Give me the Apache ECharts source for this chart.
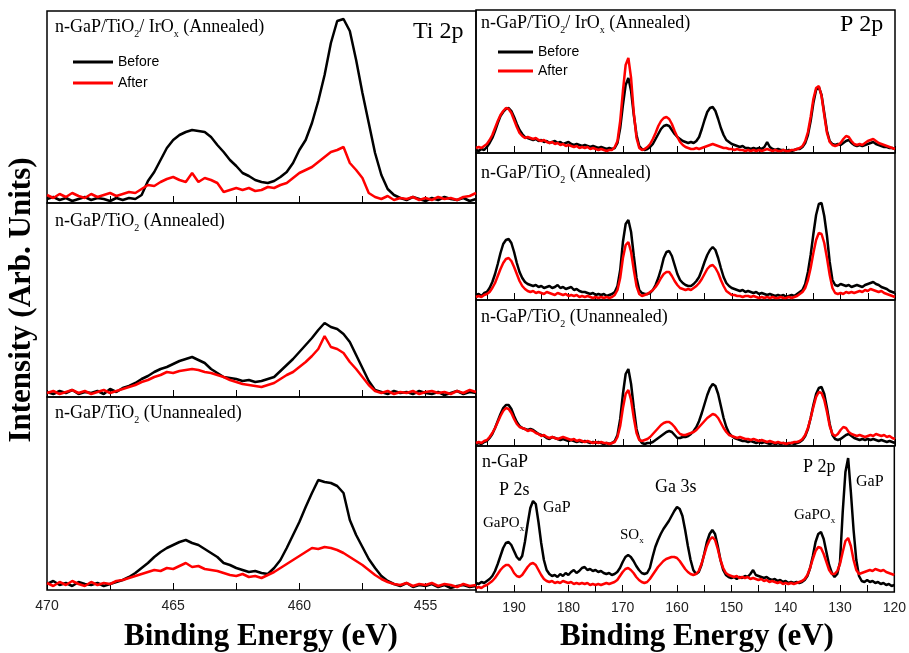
<!DOCTYPE html>
<html><head><meta charset="utf-8">
<script src="https://cdn.jsdelivr.net/npm/echarts@6/dist/echarts.min.js"></script>
<style>html,body{margin:0;padding:0;background:#fff}#c{width:909px;height:653px}</style>
</head><body><div id="c"></div>
<script>
// ---- Binding energies (eV) ----
const leftE = [470,469.75,469.5,469.25,469,468.75,468.5,468.25,468,467.75,467.5,467.25,
467,466.75,466.5,466.25,466,465.75,465.5,465.25,465,464.75,464.5,464.25,
464,463.75,463.5,463.25,463,462.75,462.5,462.25,462,461.75,461.5,461.25,
461,460.75,460.5,460.25,460,459.75,459.5,459.25,459,458.75,458.5,458.25,
458,457.75,457.5,457.25,457,456.75,456.5,456.25,456,455.75,455.5,455.25,
455,454.75,454.5,454.25,454,453.75,453.5,453.25,453];
const rightE = [197,196.5,196,195.5,195,194.5,194,193.5,193,192.5,192,191.5,191,190.5,190,189.5,189,188.5,188,187.5,
187,186.5,186,185.5,185,184.5,184,183.5,183,182.5,182,181.5,181,180.5,180,179.5,179,178.5,178,177.5,
177,176.5,176,175.5,175,174.5,174,173.5,173,172.5,172,171.5,171,170.5,170,169.5,169,168.5,168,167.5,
167,166.5,166,165.5,165,164.5,164,163.5,163,162.5,162,161.5,161,160.5,160,159.5,159,158.5,158,157.5,
157,156.5,156,155.5,155,154.5,154,153.5,153,152.5,152,151.5,151,150.5,150,149.5,149,148.5,148,147.5,
147,146.5,146,145.5,145,144.5,144,143.5,143,142.5,142,141.5,141,140.5,140,139.5,139,138.5,138,137.5,
137,136.5,136,135.5,135,134.5,134,133.5,133,132.5,132,131.5,131,130.5,130,129.5,129,128.5,128,127.5,
127,126.5,126,125.5,125,124.5,124,123.5,123,122.5,122,121.5,121,120.5,120];

// ---- Tick / label values ----
const leftTicks = [470,467.5,465,462.5,460,457.5,455];
const leftLabels = [470,465,460,455];
const rightTicks = [195,190,185,180,175,170,165,160,155,150,145,140,135,130,125,120];
const rightLabels = [190,180,170,160,150,140,130,120];

// ---- Ti 2p intensities (arb.) ----
const tiIrBefore = [4,6,3,5,2,4,6,3,5,4,2,5,
3,5,4,8,22,31,43,55,63,68,71,73,
72,71,66,58,51,43,37,30,27,23,21,20,
22,26,31,40,53,63,80,102,128,160,182,184,
172,143,110,80,50,28,14,8,5,3,6,4,
2,5,3,6,4,3,5,2,4];
const tiIrAfter = [8,5,9,6,10,7,5,9,6,8,10,7,
9,11,10,14,18,17,21,24,26,23,21,30,
21,25,23,20,11,13,15,13,15,12,13,16,
15,18,20,25,30,33,36,41,46,51,53,56,
40,33,25,10,6,4,7,3,5,4,6,3,
5,3,6,4,5,3,6,7,10];
const tiAnnBefore = [5,3,6,4,7,3,5,4,6,3,8,5,
9,11,14,18,21,25,28,30,33,36,38,40,
37,34,28,24,20,19,18,16,17,15,16,18,
20,26,32,38,45,52,59,67,74,70,68,63,
55,42,29,16,7,5,3,6,4,5,3,6,
4,3,5,2,4,6,3,5,4];
const tiAnnAfter = [4,6,3,5,7,4,6,3,5,7,4,6,
8,10,12,15,17,20,22,25,24,26,27,28,
27,25,24,22,20,17,15,13,12,11,10,12,
14,18,22,25,30,35,41,48,61,50,48,44,
35,28,20,12,6,4,6,3,5,4,6,3,
5,6,4,5,3,6,4,7,5];
const tiUnBefore = [6,9,5,7,4,8,6,5,7,4,6,8,
10,13,17,22,27,33,38,42,45,48,50,47,
45,41,37,33,27,25,22,20,18,19,17,16,
22,30,42,55,68,83,97,110,108,107,104,97,
70,55,43,31,22,14,9,6,4,7,3,5,
4,6,3,5,2,4,5,3,4];
const tiUnAfter = [7,4,8,5,9,6,4,8,5,7,6,9,
10,12,14,16,18,20,19,22,21,24,27,23,
24,21,20,19,17,15,14,16,13,14,12,15,
18,22,26,30,34,38,42,41,43,42,40,37,
33,29,25,20,15,11,8,6,5,7,4,6,
5,7,4,6,5,3,6,4,5];

// ---- P 2p region intensities (arb.) ----
const pIrBefore = [3,2,4,3,6,10,15,22,30,37,41,44,45,42,36,29,23,19,16,15,
14,13,14,12,13,11,12,10,11,12,10,11,9,10,11,9,8,9,8,7,
8,7,6,7,6,5,6,5,4,5,4,5,10,25,48,68,75,62,38,18,
7,4,3,4,6,9,14,19,24,27,28,27,23,19,16,14,12,11,10,11,
10,12,16,24,33,41,45,46,42,34,25,18,13,11,9,8,7,6,7,5,
5,4,5,4,5,4,6,11,6,4,3,4,3,3,2,3,2,3,4,4,
6,10,18,32,50,63,66,58,40,22,12,9,8,9,8,10,12,13,10,8,
7,8,7,8,9,10,11,9,8,7,6,6,5,5,4];
const pIrAfter = [5,6,5,7,9,13,18,25,32,38,42,45,44,40,33,26,20,17,15,16,
15,14,15,13,12,13,11,10,11,9,10,8,9,7,8,7,6,7,5,6,
5,6,4,5,4,3,4,3,2,3,3,6,12,32,62,88,95,75,40,15,
5,3,4,6,9,14,20,27,32,35,36,34,29,22,16,11,8,6,5,4,
4,5,4,5,6,7,8,9,8,7,6,5,5,4,4,3,4,3,3,2,
3,2,3,2,3,2,3,4,3,2,3,2,2,3,2,2,3,3,4,5,
7,12,21,36,54,65,67,57,38,20,11,8,7,8,10,14,17,16,12,9,
8,9,8,10,12,13,14,12,10,9,8,7,6,5,4];
const pAnnBefore = [5,6,4,7,8,12,18,26,36,47,56,60,61,57,48,37,28,22,18,16,
15,14,15,13,14,12,13,14,12,13,15,12,13,11,12,13,10,11,9,8,
8,7,6,7,5,6,5,6,4,5,6,8,14,30,58,76,80,68,44,22,
10,7,6,6,7,10,15,22,31,42,48,49,44,35,26,20,17,15,14,14,
16,19,23,30,38,45,50,53,50,42,32,23,17,14,12,11,10,9,10,8,
9,8,7,8,6,7,6,5,6,5,4,5,4,5,3,4,5,4,6,8,
10,16,28,45,66,85,96,97,84,64,38,20,15,14,16,15,14,15,13,14,
15,14,13,15,16,17,18,16,15,13,12,11,9,8,7];
const pAnnAfter = [3,4,3,5,6,8,12,17,24,31,37,41,42,39,33,26,19,14,11,9,
8,9,7,8,7,6,8,7,6,5,7,6,5,6,4,5,4,5,3,4,
3,4,3,2,3,2,3,2,3,2,3,5,10,22,42,55,58,48,30,14,
6,4,5,6,8,10,13,17,22,26,28,28,24,19,15,12,11,10,11,10,
12,14,17,21,26,31,34,35,32,27,20,14,9,7,5,5,4,4,3,4,
4,3,4,3,2,3,2,3,2,3,2,2,3,2,2,3,2,3,4,6,
8,12,20,32,47,60,67,66,57,42,25,12,7,6,7,6,8,7,8,7,
8,9,8,10,9,11,10,9,8,9,7,6,5,4,3];
const pUnBefore = [2,3,2,4,5,8,12,18,25,32,38,41,41,37,30,24,20,18,17,16,
17,16,14,12,11,10,8,7,9,8,7,6,7,6,5,6,5,4,5,4,
5,4,3,4,3,4,3,2,3,2,3,5,11,27,52,72,77,62,38,17,
7,3,2,3,3,4,6,8,10,12,14,15,14,11,8,8,9,9,10,12,
15,19,25,33,42,51,58,62,60,52,40,28,19,13,10,8,7,6,5,5,
4,5,4,3,4,3,4,3,2,3,2,3,2,3,2,2,3,2,3,4,
6,10,17,28,41,52,58,59,52,38,22,11,7,6,7,9,11,12,10,8,
7,6,7,6,7,6,7,6,5,6,5,4,5,4,3];
const pUnAfter = [3,4,3,5,6,9,13,18,24,30,35,38,37,33,27,22,19,18,17,15,
16,15,13,12,10,11,9,8,9,8,7,8,9,8,7,6,7,5,6,5,
4,5,4,3,4,3,4,3,3,2,3,4,9,20,38,52,56,46,28,13,
6,5,6,7,9,12,15,18,21,23,24,24,22,19,15,12,11,11,12,13,
14,16,19,22,25,28,30,32,31,28,23,18,14,11,10,9,8,9,8,7,
7,6,7,6,5,6,5,4,5,4,3,4,3,3,2,3,3,4,4,5,
7,11,18,28,39,49,54,53,46,34,20,12,10,12,16,19,18,14,12,11,
10,11,10,9,10,11,10,12,11,10,11,9,10,8,7];
const pGaPBefore = [9,8,10,9,11,13,16,21,28,36,44,49,50,47,41,35,32,36,50,68,
84,91,88,70,49,32,22,18,16,17,15,18,16,19,17,20,22,19,21,24,
25,22,23,21,22,20,21,19,18,19,17,18,20,24,30,35,37,35,31,26,
22,19,18,19,24,35,45,52,58,63,67,71,76,81,85,83,76,62,46,32,
22,18,20,27,38,50,58,62,58,46,32,22,17,15,14,15,13,15,14,16,
15,18,22,17,16,15,14,15,13,12,13,11,12,10,11,9,10,9,10,9,
10,12,16,24,36,50,58,60,53,40,27,19,15,18,30,80,120,134,100,62,
32,16,11,10,12,10,11,9,10,8,9,7,8,6,7];
const pGaPAfter = [4,5,4,6,7,9,11,14,18,22,25,27,27,24,19,16,15,17,21,25,
28,29,27,22,17,13,11,10,11,9,10,9,11,10,9,10,8,9,8,9,
8,9,7,8,7,8,7,8,9,8,9,10,12,16,20,23,24,22,19,15,
12,10,9,10,13,17,21,25,28,31,33,34,35,35,34,31,27,23,20,18,
17,18,21,28,37,46,52,55,52,43,32,24,19,17,16,15,16,14,15,14,
15,13,14,13,12,13,11,12,10,11,10,9,10,8,9,8,9,8,9,10,
11,13,17,24,33,41,45,44,38,30,22,18,18,21,28,40,51,54,46,32,
22,18,19,20,21,22,21,23,22,21,22,20,19,18,17];

const SERIF = "'Liberation Serif','Times New Roman',serif";
const SANS = "'Liberation Sans',Arial,sans-serif";

const panels = [
  {side:'L', left:47, top:11, w:429, h:192, b:tiIrBefore, a:tiIrAfter, bottom:false},
  {side:'L', left:47, top:203, w:429, h:194, b:tiAnnBefore, a:tiAnnAfter, bottom:false},
  {side:'L', left:47, top:397, w:429, h:193, b:tiUnBefore, a:tiUnAfter, bottom:true},
  {side:'R', left:476, top:10, w:419, h:143, b:pIrBefore, a:pIrAfter, bottom:false},
  {side:'R', left:476, top:153, w:419, h:147, b:pAnnBefore, a:pAnnAfter, bottom:false},
  {side:'R', left:476, top:300, w:419, h:146, b:pUnBefore, a:pUnAfter, bottom:false},
  {side:'R', left:476, top:446, w:419, h:146, b:pGaPBefore, a:pGaPAfter, bottom:true}
];

const pairs = (E, v) => E.map((e, i) => [e, v[i]]);

const grid = [], xAxis = [], yAxis = [], series = [];
panels.forEach((p, i) => {
  const L = p.side === 'L';
  const E = L ? leftE : rightE;
  grid.push({left:p.left, top:p.top, width:p.w, height:p.h, show:true, borderColor:'#000', borderWidth:1.5, backgroundColor:'transparent'});
  xAxis.push({gridIndex:i, type:'value', inverse:true, min:L?453:120, max:L?470:197,
    axisLine:{show:false}, splitLine:{show:false},
    axisTick:{show:true, inside:true, length:7, lineStyle:{color:'#000', width:1}, customValues:L?leftTicks:rightTicks},
    axisLabel:{show:p.bottom, customValues:L?leftLabels:rightLabels, margin:9, fontSize:14, fontFamily:SANS, color:'#222'}});
  yAxis.push({gridIndex:i, type:'value', min:0, max:p.h, show:false});
  series.push({type:'line', name:'Before', xAxisIndex:i, yAxisIndex:i, data:pairs(E, p.b), symbol:'none', silent:true,
    lineStyle:{color:'#000', width:2.5}, itemStyle:{color:'#000'}});
  series.push({type:'line', name:'After', xAxisIndex:i, yAxisIndex:i, data:pairs(E, p.a), symbol:'none', silent:true,
    lineStyle:{color:'#ff0000', width:2.5}, itemStyle:{color:'#ff0000'}});
});

const rich = {
  a:{fontFamily:SERIF, fontSize:18, lineHeight:24, color:'#000'},
  s:{fontFamily:SERIF, fontSize:10, lineHeight:10, verticalAlign:'bottom', color:'#000'},
  b:{fontFamily:SERIF, fontSize:15, lineHeight:20, color:'#000'},
  g:{fontFamily:SERIF, fontSize:16, lineHeight:20, color:'#000'},
  t:{fontFamily:SERIF, fontSize:9, lineHeight:8, verticalAlign:'bottom', color:'#000'},
  big:{fontFamily:SERIF, fontSize:24, lineHeight:30, color:'#000'}
};
const txt = (x, y, text) => ({type:'text', x:x, y:y, silent:true, style:{text:text, rich:rich, align:'left', verticalAlign:'top'}});

const graphic = [
  txt(55, 15, '{a|n-GaP/TiO}{s|2}{a|/ IrO}{s|x}{a| (Annealed)}'),
  txt(55, 209, '{a|n-GaP/TiO}{s|2}{a| (Annealed)}'),
  txt(55, 401, '{a|n-GaP/TiO}{s|2}{a| (Unannealed)}'),
  txt(413, 17, '{big|Ti 2p}'),
  txt(481, 11, '{a|n-GaP/TiO}{s|2}{a|/ IrO}{s|x}{a| (Annealed)}'),
  txt(481, 161, '{a|n-GaP/TiO}{s|2}{a| (Annealed)}'),
  txt(481, 305, '{a|n-GaP/TiO}{s|2}{a| (Unannealed)}'),
  txt(840, 10, '{big|P 2p}'),
  txt(482, 450, '{a|n-GaP}'),
  txt(499, 478, '{a|P 2s}'),
  txt(543, 498, '{g|GaP}'),
  txt(483, 513, '{b|GaPO}{t|x}'),
  txt(620, 525, '{b|SO}{t|x}'),
  txt(655, 475, '{a|Ga 3s}'),
  txt(803, 455, '{a|P 2p}'),
  txt(856, 472, '{g|GaP}'),
  txt(794, 505, '{b|GaPO}{t|x}'),
  {type:'text', x:22, y:300, rotation:Math.PI/2, silent:true,
   style:{text:'Intensity (Arb. Units)', align:'center', verticalAlign:'middle', font:'bold 31px ' + SERIF, fill:'#000'}},
  {type:'text', x:261, y:637, silent:true,
   style:{text:'Binding Energy (eV)', align:'center', verticalAlign:'middle', font:'bold 31px ' + SERIF, fill:'#000'}},
  {type:'text', x:697, y:637, silent:true,
   style:{text:'Binding Energy (eV)', align:'center', verticalAlign:'middle', font:'bold 31px ' + SERIF, fill:'#000'}}
];

const legendCommon = {orient:'vertical', icon:'rect', itemHeight:3, padding:0, selectedMode:false,
  data:['Before','After'], textStyle:{fontFamily:SANS, fontSize:14, color:'#000', lineHeight:14}};
const legend = [
  Object.assign({left:73, top:55, itemWidth:40, itemGap:7}, legendCommon),
  Object.assign({left:498, top:45, itemWidth:35, itemGap:5}, legendCommon)
];

const chart = echarts.init(document.getElementById('c'), null, {renderer:'canvas'});
chart.setOption({animation:false, backgroundColor:'#fff', grid, xAxis, yAxis, series, legend, graphic});
</script></body></html>
